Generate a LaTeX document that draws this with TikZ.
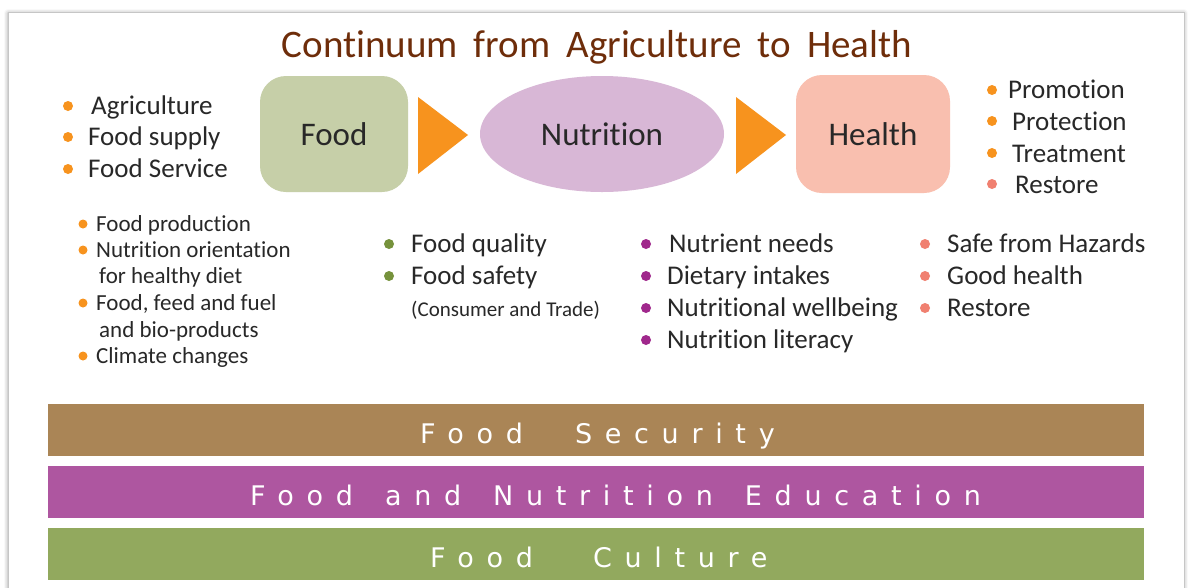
\documentclass[tikz,border=0pt]{standalone}
\usepackage{fontspec}
\setmainfont{Carlito}[Ligatures=NoCommon]
\newfontfamily\barfont{DejaVu Sans}[LetterSpace=47]
\usetikzlibrary{shadows.blur,shapes.geometric}
\definecolor{titlec}{RGB}{110,45,10}
\definecolor{textc}{RGB}{40,40,40}
\definecolor{foodc}{RGB}{198,207,168}
\definecolor{nutric}{RGB}{216,183,214}
\definecolor{healthc}{RGB}{249,191,175}
\definecolor{arrowc}{RGB}{247,147,30}
\definecolor{orangedot}{RGB}{247,147,30}
\definecolor{greendot}{RGB}{118,146,60}
\definecolor{purpledot}{RGB}{160,40,140}
\definecolor{salmondot}{RGB}{240,128,112}
\definecolor{barone}{RGB}{170,133,86}
\definecolor{bartwo}{RGB}{174,86,160}
\definecolor{barthree}{RGB}{146,169,94}
\tikzset{
  bdot/.style={circle, fill=#1, inner sep=0pt, minimum size=10pt},
  sdot/.style={circle, fill=#1, inner sep=0pt, minimum size=9pt},
  txt/.style={anchor=base west, inner sep=0pt, text=textc, font=\fontsize{27}{32}\selectfont},
  stxt/.style={anchor=base west, inner sep=0pt, text=textc, font=\fontsize{23}{28}\selectfont},
  bigtxt/.style={text=textc, font=\fontsize{33}{38}\selectfont},
  barbox/.style={rectangle, inner sep=0pt, minimum width=1096pt, minimum height=52pt},
  bartxt/.style={text=white, inner sep=0pt, anchor=base west, font=\barfont\fontsize{27}{32}\selectfont},
}
\begin{document}
\begin{tikzpicture}[x=1pt,y=-1pt]
\useasboundingbox (0,0) rectangle (1188,587);
% panel
\fill[white, blur shadow={shadow xshift=0pt, shadow yshift=-1pt, shadow blur radius=4pt, shadow opacity=40}] (8,12) rectangle (1184,600);
\draw[gray!45, line width=1pt] (8,600) -- (8,12) -- (1184,12) -- (1184,600);
% title
\node[text=titlec, font=\fontsize{39}{44}\selectfont, anchor=base, inner sep=0pt] (title) at (597,57) {\spaceskip=16pt\relax Continuum from Agriculture to Health};
% main shapes
\node[rectangle, rounded corners=26pt, fill=foodc, minimum width=148pt, minimum height=116pt, inner sep=0pt] (food) at (334,134) {};
\node[bigtxt, anchor=center] (foodt) at (food.center) {Food};
\node[ellipse, fill=nutric, minimum width=244pt, minimum height=116pt, inner sep=0pt] (nutri) at (602,134) {};
\node[bigtxt] (nutrit) at (nutri.center) {Nutrition};
\node[rectangle, rounded corners=26pt, fill=healthc, minimum width=154pt, minimum height=118pt, inner sep=0pt] (health) at (873,134) {};
\node[bigtxt] (healtht) at (health.center) {Health};
% arrows
\fill[arrowc] (418,97) -- (468,135) -- (418,174) -- cycle;
\fill[arrowc] (736,97) -- (786,135) -- (736,174) -- cycle;
% left bullets
\node[bdot=orangedot] (la) at (68,106) {};
\node[txt] (lat) at (91,114) {Agriculture};
\node[bdot=orangedot] (lb) at (68,137) {};
\node[txt] (lbt) at (88,145) {Food supply};
\node[bdot=orangedot] (lc) at (68,169) {};
\node[txt] (lct) at (88,177) {Food Service};
% right bullets
\node[bdot=orangedot] (ra) at (992,90) {};
\node[txt] (rat) at (1008,98) {Promotion};
\node[bdot=orangedot] (rb) at (992,121) {};
\node[txt] (rbt) at (1012,130) {Protection};
\node[bdot=orangedot] (rc) at (992,153) {};
\node[txt] (rct) at (1012,162) {Treatment};
\node[bdot=salmondot] (rd) at (992,184) {};
\node[txt] (rdt) at (1015,193) {Restore};
% lower left
\node[sdot=orangedot] (fa) at (83,224) {};
\node[stxt] (fat) at (96,231) {Food production};
\node[sdot=orangedot] (fb) at (83,250) {};
\node[stxt] (fbt) at (96,257) {Nutrition orientation};
\node[stxt] (fbt2) at (99,283) {for healthy diet};
\node[sdot=orangedot] (fc) at (83,303) {};
\node[stxt] (fct) at (96,310) {Food, feed and fuel};
\node[stxt] (fct2) at (99,337) {and bio-products};
\node[sdot=orangedot] (fd) at (83,356) {};
\node[stxt] (fdt) at (96,363) {Climate changes};
% middle
\node[bdot=greendot] (ma) at (389,244) {};
\node[txt] (mat) at (411,252) {Food quality};
\node[bdot=greendot] (mb) at (389,276) {};
\node[txt] (mbt) at (411,284) {Food safety};
\node[anchor=base west, inner sep=0pt, text=textc, font=\fontsize{21}{24}\selectfont] (mct) at (411,316) {(Consumer and Trade)};
% nutrition column
\node[bdot=purpledot] (na) at (646,244) {};
\node[txt] (nat) at (669,252) {Nutrient needs};
\node[bdot=purpledot] (nb) at (646,276) {};
\node[txt] (nbt) at (667,284) {Dietary intakes};
\node[bdot=purpledot] (nc) at (646,308) {};
\node[txt] (nct) at (667,316) {Nutritional wellbeing};
\node[bdot=purpledot] (nd) at (646,340) {};
\node[txt] (ndt) at (667,348) {Nutrition literacy};
% health column
\node[bdot=salmondot] (ha) at (925,244) {};
\node[txt] (hat) at (947,252) {Safe from Hazards};
\node[bdot=salmondot] (hb) at (925,276) {};
\node[txt] (hbt) at (947,284) {Good health};
\node[bdot=salmondot] (hc) at (925,308) {};
\node[txt] (hct) at (947,316) {Restore};
% bars
\node[barbox, fill=barone] (bar1) at (596,430) {};
\node[bartxt] (bar1t) at (420,443) {Food\hspace{52pt}Security};
\node[barbox, fill=bartwo] (bar2) at (596,492) {};
\node[bartxt] (bar2t) at (250,505) {Food\hspace{32pt}and\hspace{32pt}Nutrition\hspace{32pt}Education};
\node[barbox, fill=barthree] (bar3) at (596,554) {};
\node[bartxt] (bar3t) at (430,567) {Food\hspace{60pt}Culture};
\end{tikzpicture}
\end{document}
